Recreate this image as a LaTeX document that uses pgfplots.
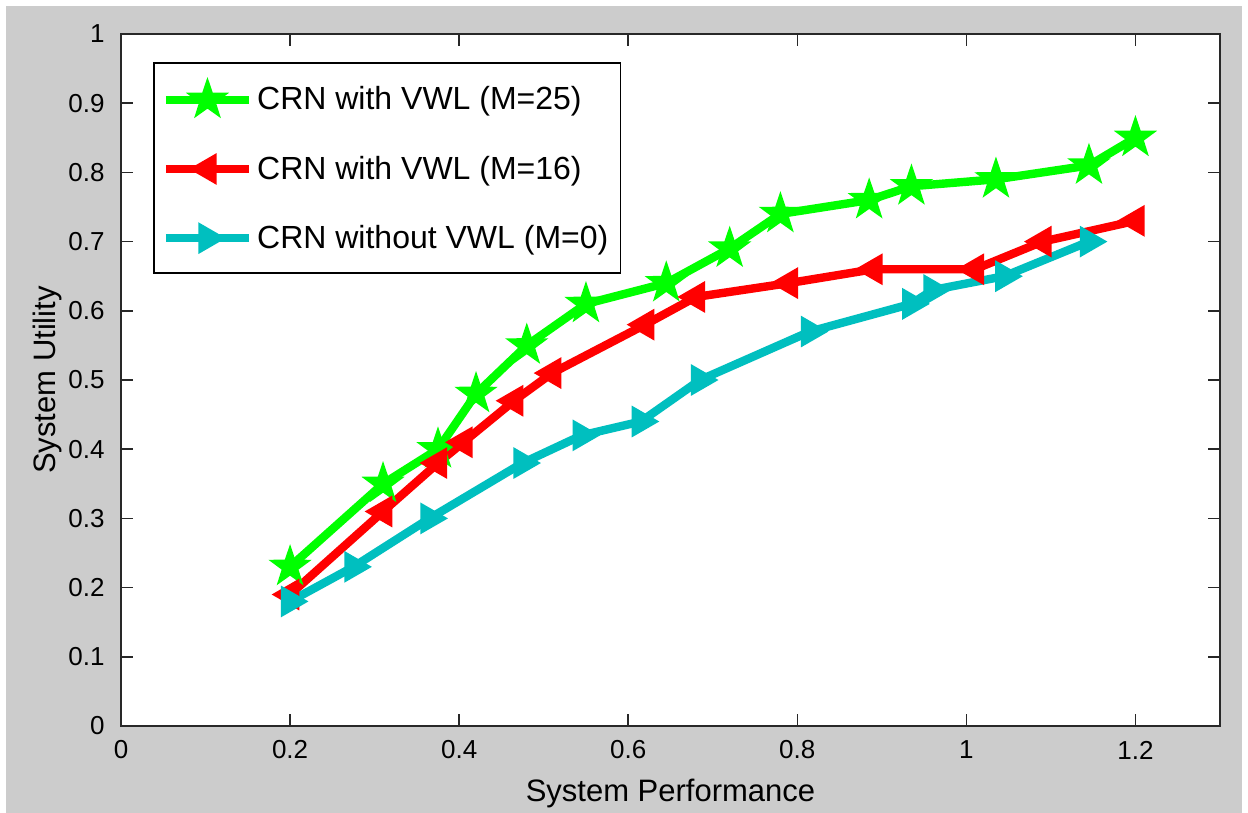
\documentclass[border=0pt]{standalone}
\usepackage{fontspec}
\setmainfont{Liberation Sans}
\usepackage{pgfplots}
\pgfplotsset{compat=1.18}
\usetikzlibrary{plotmarks}

\definecolor{mgreen}{RGB}{0,255,0}
\definecolor{mred}{RGB}{255,0,0}
\definecolor{mcyan}{RGB}{0,191,191}
\definecolor{figgray}{RGB}{204,204,204}
\definecolor{axgray}{RGB}{40,40,40}

% filled five-pointed star, like MATLAB's pentagram
\pgfdeclareplotmark{pentagram}{%
  \pgfpathmoveto{\pgfpointpolar{90}{\pgfplotmarksize}}%
  \pgfpathlineto{\pgfpointpolar{126}{0.39\pgfplotmarksize}}%
  \pgfpathlineto{\pgfpointpolar{162}{\pgfplotmarksize}}%
  \pgfpathlineto{\pgfpointpolar{198}{0.39\pgfplotmarksize}}%
  \pgfpathlineto{\pgfpointpolar{234}{\pgfplotmarksize}}%
  \pgfpathlineto{\pgfpointpolar{270}{0.39\pgfplotmarksize}}%
  \pgfpathlineto{\pgfpointpolar{306}{\pgfplotmarksize}}%
  \pgfpathlineto{\pgfpointpolar{342}{0.39\pgfplotmarksize}}%
  \pgfpathlineto{\pgfpointpolar{18}{\pgfplotmarksize}}%
  \pgfpathlineto{\pgfpointpolar{54}{0.39\pgfplotmarksize}}%
  \pgfpathclose
  \pgfusepathqfillstroke
}

\pgfplotstableread{
x y
0.2   0.23
0.31  0.35
0.375 0.40
0.42  0.48
0.48  0.55
0.55  0.61
0.645 0.64
0.72  0.69
0.78  0.74
0.885 0.76
0.935 0.78
1.035 0.79
1.145 0.81
1.2   0.85
}\greendata

\pgfplotstableread{
x y
0.2   0.19
0.31  0.31
0.375 0.38
0.405 0.41
0.465 0.47
0.51  0.51
0.62  0.58
0.68  0.62
0.79  0.64
0.89  0.66
1.01  0.66
1.09  0.70
1.2   0.73
}\reddata

\pgfplotstableread{
x y
0.2   0.18
0.275 0.23
0.365 0.30
0.475 0.38
0.545 0.42
0.615 0.44
0.685 0.50
0.815 0.57
0.935 0.61
0.96  0.63
1.045 0.65
1.145 0.70
}\cyandata

\begin{document}
\begin{tikzpicture}
  % figure window: 1248x813 px at 0.5pt per px
  \useasboundingbox[fill=white] (-60.5pt,-43.5pt) rectangle (563.5pt,363pt);
  \fill[figgray] (-57.5pt,-43.5pt) rectangle (560.5pt,360pt);
  \begin{axis}[
    at={(0pt,0pt)}, anchor=south west,
    scale only axis,
    width=549.5pt, height=346pt,
    xmin=0, xmax=1.3, ymin=0, ymax=1,
    xtick={0,0.2,...,1.2},
    ytick={0,0.1,...,1},
    tick align=inside,
    major tick length=6pt,
    axis background/.style={fill=white},
    axis line style={axgray, line width=0.8pt},
    every tick/.style={axgray, line width=0.8pt},
    /pgf/number format/assume math mode=true,
    /pgf/number format/fixed,
    tick label style={font=\fontsize{13}{15}\selectfont, black},
    xticklabel style={anchor=center, yshift=-12pt},
    yticklabel style={anchor=east, inner sep=0pt, xshift=-8pt},
    xlabel={System Performance},
    ylabel={System Utility},
    label style={font=\fontsize{15.5}{18}\selectfont},
    xlabel style={at={(axis description cs:0.5,-0.097)}, anchor=center},
    ylabel style={at={(axis description cs:-0.0673,0.5)}, anchor=center, rotate=0},
    legend style={
      at={(axis description cs:0,1)}, anchor=north west,
      xshift=16pt, yshift=-14pt,
      draw=black, line width=0.8pt, fill=white,
      font=\fontsize{16}{18}\selectfont,
      inner xsep=4pt, inner ysep=9pt,
      row sep=17.5pt,
      cells={anchor=west},
    },
    legend image code/.code={
      \draw[mark repeat=2, mark phase=2, #1]
        plot coordinates {(0pt,0pt) (20.75pt,0pt) (41.5pt,0pt)};
    },
  ]
    \addplot[mgreen, line width=4.2pt, mark=pentagram, mark size=9.5pt,
      mark options={solid, fill=mgreen, line width=1.2pt}]
      table[x=x, y=y] {\greendata};
    \addlegendentry{CRN with VWL (M=25)}

    \addplot[mred, line width=4.2pt, mark=triangle*, mark size=8pt,
      mark options={solid, fill=mred, line width=1.2pt, rotate=90}]
      table[x=x, y=y] {\reddata};
    \addlegendentry{CRN with VWL (M=16)}

    \addplot[mcyan, line width=4.2pt, mark=triangle*, mark size=8pt,
      mark options={solid, fill=mcyan, line width=1.2pt, rotate=-90}]
      table[x=x, y=y] {\cyandata};
    \addlegendentry{CRN without VWL (M=0)}
  \end{axis}
\end{tikzpicture}
\end{document}
